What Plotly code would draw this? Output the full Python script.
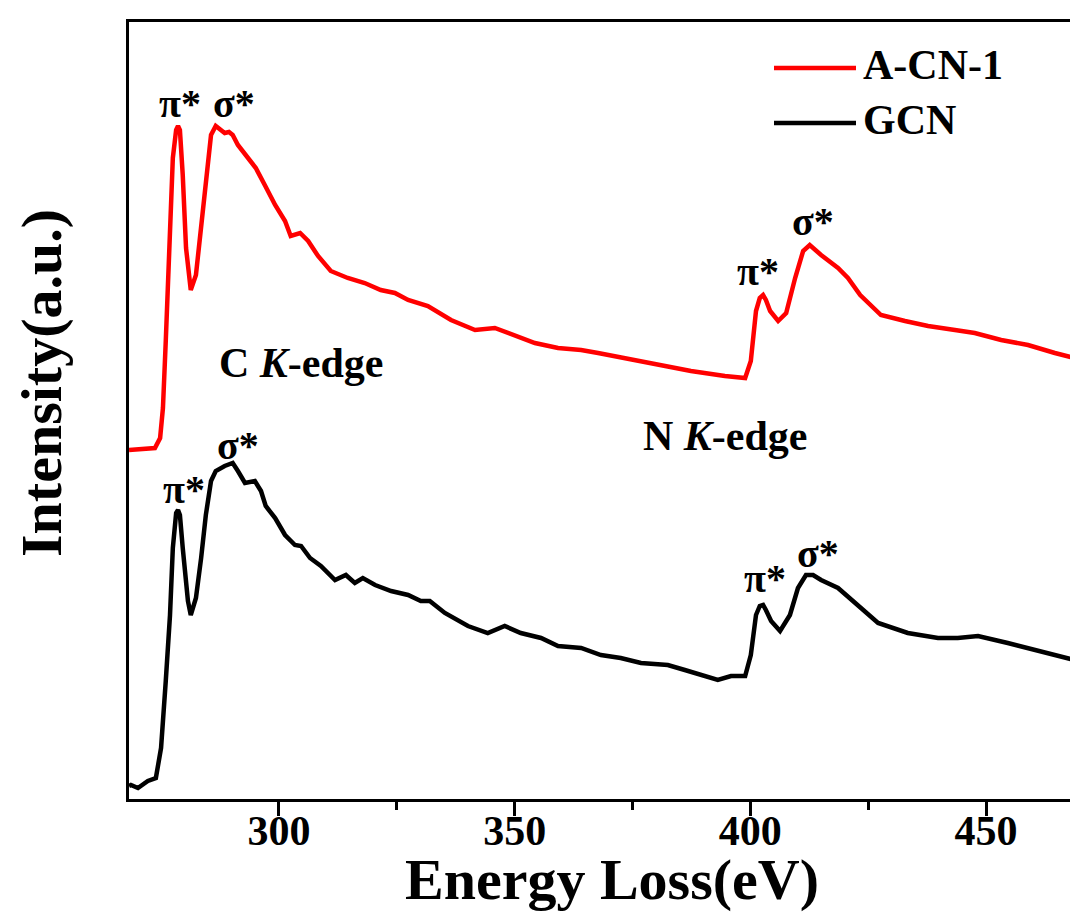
import plotly.graph_objects as go

# ---- data (energy in eV, intensity in arbitrary units) ----
red_energy = [268.2, 271.2, 273.7, 274.8, 275.4, 276.0, 276.9, 277.5, 278.2, 278.6, 279.0, 279.6,
              280.3, 281.3, 282.4, 283.5, 284.5, 285.6, 286.6, 287.5, 288.5, 289.4, 290.2, 291.3,
              293.4, 295.1, 297.0, 299.2, 301.3, 302.5, 304.5, 306.2, 308.3, 311.0, 314.6, 318.2,
              321.6, 324.6, 327.4, 331.6, 336.5, 341.6, 345.8, 350.1, 354.3, 359.2, 364.1, 367.7,
              373.4, 380.4, 387.4, 394.6, 398.9, 400.1, 401.2, 402.0, 402.7, 403.3, 404.2, 405.9,
              407.6, 409.5, 411.2, 412.6, 415.0, 418.6, 420.7, 423.3, 427.7, 432.8, 437.7, 443.4,
              447.6, 453.2, 458.9, 464.6, 470.1, 471.2]
red_intensity = [349, 350, 351, 361, 391, 458, 558, 641, 669, 673, 669, 624,
                 551, 509, 524, 574, 624, 664, 673, 669, 666, 667, 664, 654,
                 641, 631, 614, 594, 578, 563, 566, 558, 543, 528, 521, 516,
                 509, 506, 499, 493, 479, 469, 471, 464, 456, 451, 449, 446,
                 441, 434, 428, 423, 421, 438, 488, 501, 504, 499, 488, 478,
                 486, 521, 548, 554, 544, 531, 521, 504, 484, 478, 473, 469,
                 466, 459, 454, 446, 439, 438]

black_energy = [268.2, 268.6, 270.1, 272.2, 273.9, 275.0, 276.0, 276.9, 277.5, 278.2, 278.6, 279.0,
                279.6, 280.7, 281.3, 282.4, 283.5, 284.5, 285.6, 286.6, 288.5, 290.2, 291.3, 292.8,
                294.9, 296.2, 297.2, 299.2, 301.3, 303.4, 304.7, 306.6, 308.9, 311.9, 314.2, 316.1,
                317.8, 320.4, 323.8, 327.4, 330.1, 332.0, 335.2, 340.1, 344.3, 347.9, 351.3, 355.6,
                359.2, 364.1, 368.3, 372.5, 376.8, 382.5, 386.1, 389.5, 393.1, 395.9, 398.9, 400.1,
                401.2, 402.0, 402.7, 403.3, 404.4, 406.3, 408.4, 410.1, 411.8, 413.3, 415.0, 418.6,
                422.8, 427.1, 433.4, 439.8, 444.0, 448.3, 454.6, 458.9, 463.1, 467.4, 471.2]
black_intensity = [13, 14, 11, 18, 21, 51, 118, 184, 251, 286, 289, 284,
                   251, 198, 184, 201, 241, 284, 318, 328, 333, 336, 328, 316,
                   318, 308, 293, 281, 264, 254, 253, 241, 233, 219, 224, 216,
                   221, 214, 208, 204, 198, 198, 186, 173, 166, 173, 166, 161,
                   153, 151, 144, 141, 136, 134, 129, 124, 119, 123, 123, 144,
                   184, 193, 194, 189, 178, 168, 184, 211, 224, 224, 219, 211,
                   194, 176, 166, 161, 161, 163, 156, 151, 146, 141, 136]

series_names = ["A-CN-1", "GCN"]
series_colors = ["#ff0000", "#000000"]
x_tick_values = [300, 350, 400, 450]
x_minor_ticks = [325, 375, 425]

# peak labels: (energy, intensity, text)
peak_labels = [
    (279.0, 696, "π*"), (290.5, 696, "σ*"),
    (401.6, 528, "π*"), (413.3, 578, "σ*"),
    (279.8, 310, "π*"), (291.3, 354, "σ*"),
    (403.1, 221, "π*"), (414.3, 246, "σ*"),
]
edge_labels = [(304.7, 436, "C <i>K</i>-edge"), (394.8, 363, "N <i>K</i>-edge")]

FONT = "Liberation Serif"
W, H = 1078, 913
L, R, T, B = 121, 0, 14, 122
pw, ph = W - L - R, H - T - B

def px(x):
    return (x - L) / pw

def py(y):
    return (H - B - y) / ph

fig = go.Figure()
fig.add_trace(go.Scatter(x=red_energy, y=red_intensity, mode="lines",
                         line=dict(color=series_colors[0], width=4.5), name=series_names[0],
                         showlegend=False))
fig.add_trace(go.Scatter(x=black_energy, y=black_intensity, mode="lines",
                         line=dict(color=series_colors[1], width=4.5), name=series_names[1],
                         showlegend=False))

annotations = []
for ex, iy, t in peak_labels:
    annotations.append(dict(x=ex, y=iy, xref="x", yref="y", text=t, showarrow=False,
                            font=dict(family=FONT, size=40, color="black", weight="bold")))
for ex, iy, t in edge_labels:
    annotations.append(dict(x=ex, y=iy, xref="x", yref="y", text=t, showarrow=False,
                            font=dict(family=FONT, size=42, color="black", weight="bold")))

# legend (manual)
shapes = []
for i, (nm, col) in enumerate(zip(series_names, series_colors)):
    yy = [60, 115][i]
    shapes.append(dict(type="line", xref="paper", yref="paper", x0=px(766), x1=px(848),
                       y0=py(yy), y1=py(yy), line=dict(color=col, width=4.5)))
    annotations.append(dict(x=px(853), y=py(yy - 3), xref="paper", yref="paper", text=nm,
                            showarrow=False, xanchor="left", yanchor="middle",
                            font=dict(family=FONT, size=42, color="black", weight="bold")))

# axis titles
annotations.append(dict(x=px(604), y=py(871), xref="paper", yref="paper", text="Energy Loss(eV)",
                        showarrow=False, xanchor="center", yanchor="middle",
                        font=dict(family=FONT, size=58, color="black", weight="bold")))
annotations.append(dict(x=px(33), y=py(375), xref="paper", yref="paper", text="Intensity(a.u.)",
                        showarrow=False, textangle=-90, xanchor="center", yanchor="middle",
                        font=dict(family=FONT, size=58, color="black", weight="bold")))

fig.update_layout(
    width=W, height=H,
    margin=dict(l=L, r=R, t=T, b=B),
    paper_bgcolor="white", plot_bgcolor="white",
    annotations=annotations, shapes=shapes,
    showlegend=False,
)
fig.update_xaxes(range=[268.2, 471.2], showline=True, linecolor="black", linewidth=3, mirror=True,
                 showgrid=False, zeroline=False, ticks="outside", ticklen=14, tickwidth=3,
                 tickcolor="black", tickvals=x_tick_values, ticklabelstandoff=-21,
                 tickfont=dict(family=FONT, size=42, color="black", weight="bold"),
                 minor=dict(tickvals=x_minor_ticks, ticks="outside", ticklen=8, tickwidth=3,
                            tickcolor="black", showgrid=False))
fig.update_yaxes(range=[0, 777], showline=True, linecolor="black", linewidth=3, mirror=False,
                 showgrid=False, zeroline=False, showticklabels=False, ticks="")

fig.write_html("out.html")
